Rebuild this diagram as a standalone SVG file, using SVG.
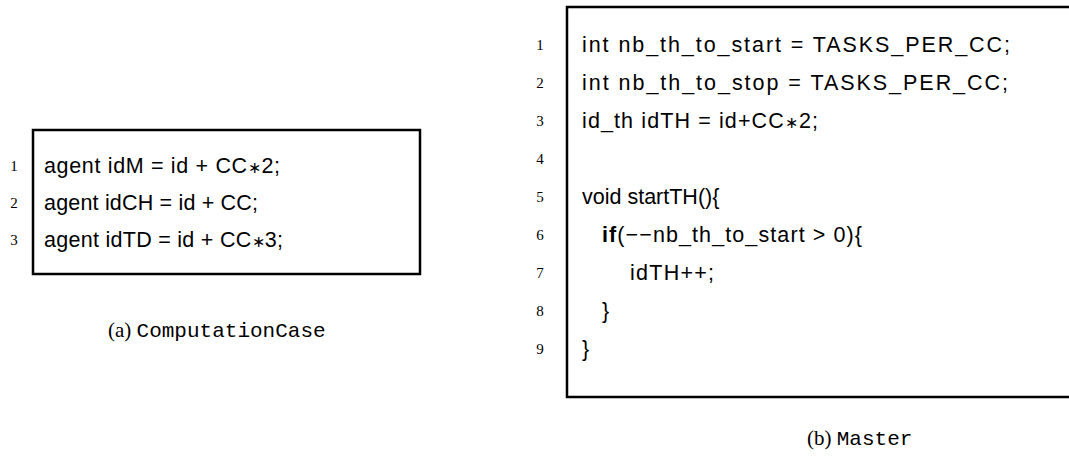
<svg xmlns="http://www.w3.org/2000/svg" width="1069" height="468" viewBox="0 0 1069 468">
<style>
.code{font-family:"Liberation Sans",Arial,sans-serif;font-size:21.5px;fill:#000}
.ast{font-size:16px}
.num{font-family:"Liberation Serif","Times New Roman",serif;font-size:15px;fill:#000;text-anchor:middle}
.cap{font-family:"Liberation Serif","Times New Roman",serif;font-size:21px;fill:#000}
.tt{font-family:"Liberation Mono","Courier New",monospace}
.frame{fill:none;stroke:#000;stroke-width:2.5}
</style>
<rect width="1069" height="468" fill="#fff"/>
<g id="computationcase">
  <rect class="frame" x="33" y="130" width="387" height="144"/>
  <text class="num" x="14" y="171">1</text>
  <text class="num" x="14" y="208">2</text>
  <text class="num" x="14" y="245">3</text>
  <text class="code" x="44" y="173" textLength="236" lengthAdjust="spacing">agent idM = id + CC<tspan class="ast">∗</tspan>2;</text>
  <text class="code" x="44" y="210" textLength="214" lengthAdjust="spacing">agent idCH = id + CC;</text>
  <text class="code" x="44" y="247" textLength="239" lengthAdjust="spacing">agent idTD = id + CC<tspan class="ast">∗</tspan>3;</text>
  <text class="cap" x="108" y="337">(a) <tspan class="tt">ComputationCase</tspan></text>
</g>
<g id="master">
  <path class="frame" d="M1070 7 H567 V397 H1070"/>
  <text class="num" x="540" y="50">1</text>
  <text class="num" x="540" y="88">2</text>
  <text class="num" x="540" y="126">3</text>
  <text class="num" x="540" y="164">4</text>
  <text class="num" x="540" y="202">5</text>
  <text class="num" x="540" y="240">6</text>
  <text class="num" x="540" y="278">7</text>
  <text class="num" x="540" y="316">8</text>
  <text class="num" x="540" y="354">9</text>
  <text class="code" x="582" y="52" textLength="428" lengthAdjust="spacing">int nb_th_to_start = TASKS_PER_CC;</text>
  <text class="code" x="582" y="90" textLength="426" lengthAdjust="spacing">int nb_th_to_stop = TASKS_PER_CC;</text>
  <text class="code" x="582" y="128" textLength="236" lengthAdjust="spacing">id_th idTH = id+CC<tspan class="ast">∗</tspan>2;</text>
  <text class="code" x="582" y="204">void startTH(){</text>
  <text class="code" x="602" y="242" textLength="260" lengthAdjust="spacing"><tspan font-weight="bold">if</tspan>(−−nb_th_to_start &gt; 0){</text>
  <text class="code" x="630" y="280" textLength="84" lengthAdjust="spacing">idTH++;</text>
  <text class="code" x="602" y="318">}</text>
  <text class="code" x="582" y="356">}</text>
  <text class="cap" x="807" y="445">(b) <tspan class="tt">Master</tspan></text>
</g>
</svg>
